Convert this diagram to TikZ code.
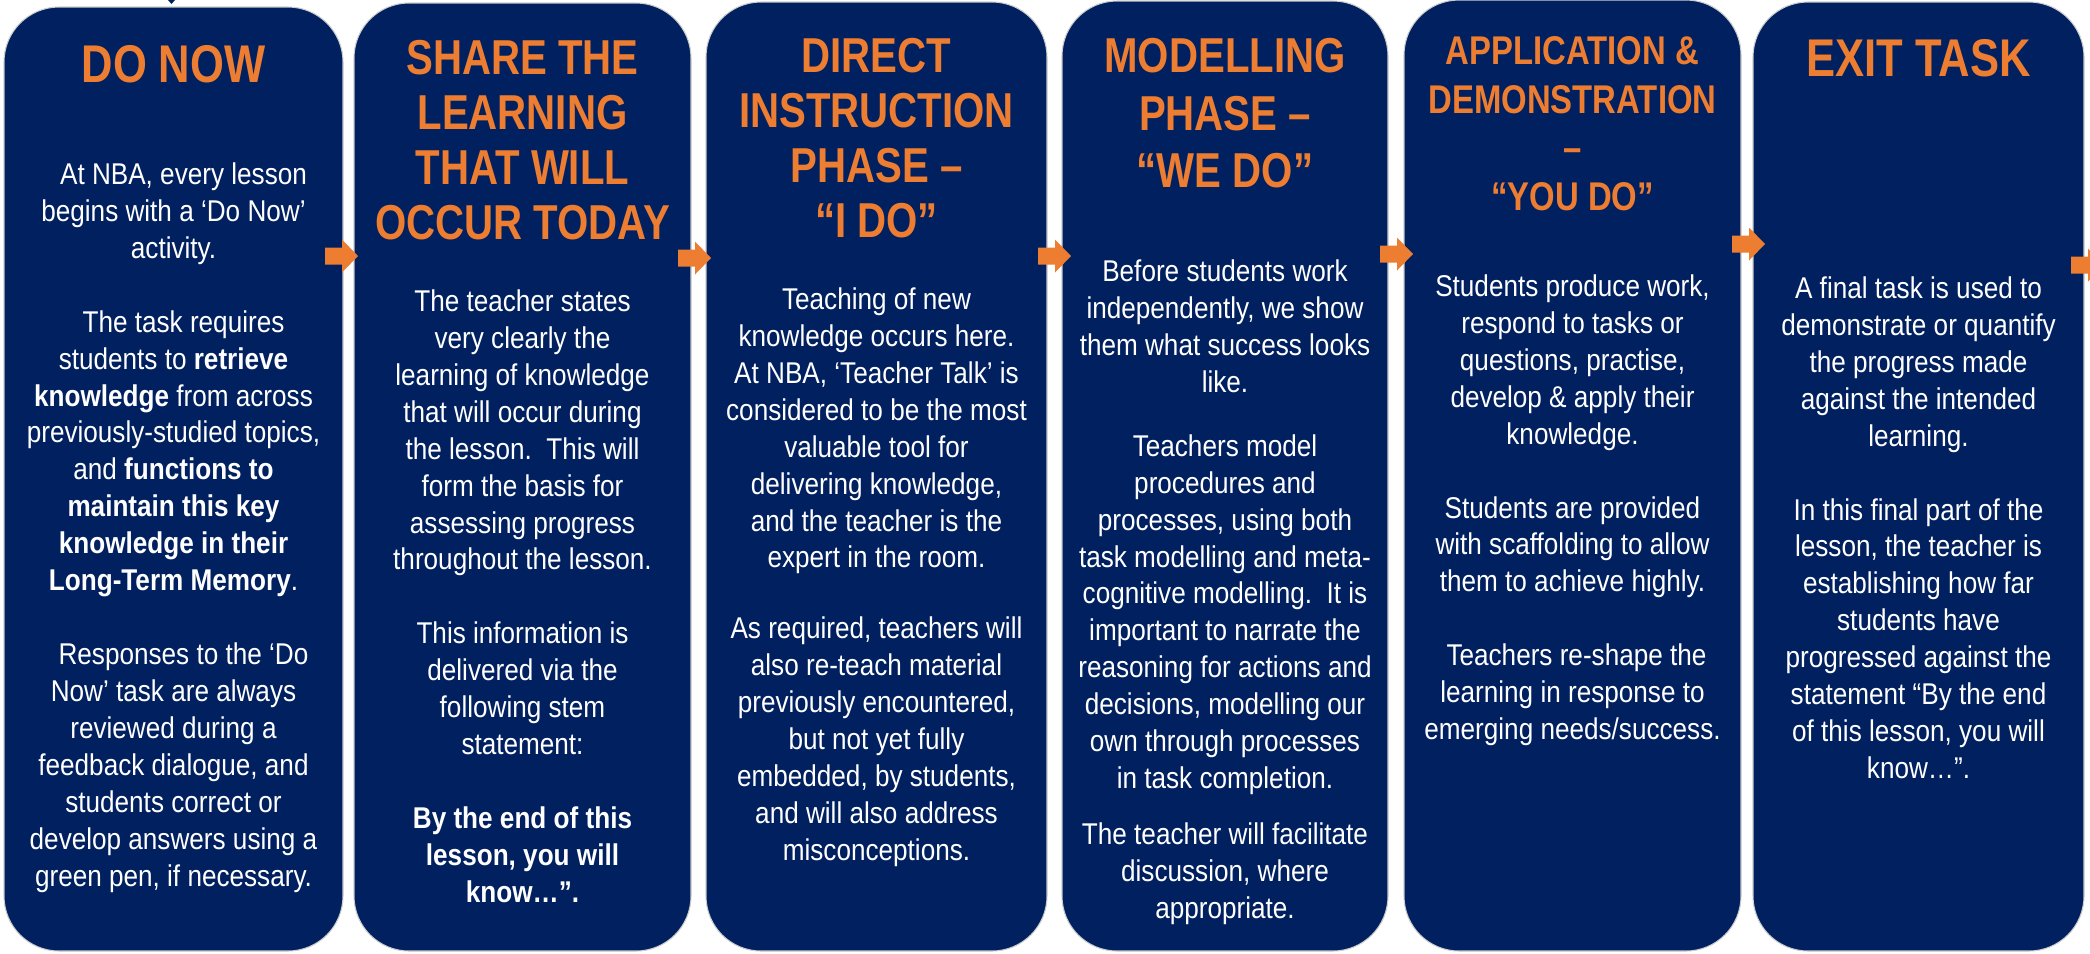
\documentclass[tikz,border=0pt]{standalone}
\usepackage{fontspec}
\setmainfont[FakeStretch=0.87]{Liberation Sans}
\newfontfamily\headfont[FakeStretch=0.82, Ligatures=TeX]{Liberation Sans}
\usepackage{xcolor}
\usepackage{tikz}

\definecolor{nbanavy}{HTML}{002060}
\definecolor{nbaorange}{HTML}{ED7D31}

\begin{document}
\begin{tikzpicture}[x=0.01cm, y=-0.01cm,
	panel/.style={fill=nbanavy, draw=black!20, line width=0.3pt, rounded corners=0.55cm},
	head/.style={anchor=north, inner sep=0pt, align=center, text=nbaorange,
		font=\headfont\bfseries\fontsize{13.94}{15.65}\selectfont},
	bighead/.style={head, font=\headfont\bfseries\fontsize{15.1}{16.5}\selectfont},
	smallhead/.style={head, font=\headfont\bfseries\fontsize{11.4}{13.8}\selectfont},
	body/.style={anchor=north, inner sep=0pt, align=center, text=white,
		font=\fontsize{8.54}{10.5}\selectfont}]

\useasboundingbox (0,0) rectangle (2090,953);
\clip (0,0) rectangle (2090,953);

% the six panels
\draw[panel] (4,7) rectangle (343,951);
\draw[panel] (354,3) rectangle (691,951);
\draw[panel] (706,2) rectangle (1047,951);
\draw[panel] (1062,1) rectangle (1388,951);
\draw[panel] (1404,0) rectangle (1741,951);
\draw[panel] (1753,2) rectangle (2084,951);

% tip of something above the first panel
\fill[nbanavy] (168,0) -- (175,0) -- (171.5,4) -- cycle;

% orange arrows between the panels
\foreach \x/\y in {325/256, 678/258, 1038/256, 1380/254, 1732/244, 2071/265}{
	\fill[nbaorange] (\x,\y) ++(0,-8.5) -- ++(17,0) -- ++(0,-8) -- ++(16,16.5)
		-- ++(-16,16.5) -- ++(0,-8) -- ++(-17,0) -- cycle;
}

% headings
\node[bighead] (h1) at (173.5,45) {DO NOW};
\node[head] (h2) at (522.5,39.5) {SHARE THE\\LEARNING\\THAT WILL\\OCCUR TODAY};
\node[head] (h3) at (876.5,37.5) {DIRECT\\INSTRUCTION\\PHASE --\\``I DO''};
\node[head, font=\headfont\bfseries\fontsize{13.94}{16.4}\selectfont] (h4) at (1225,37.5)
	{MODELLING\\PHASE --\\``WE DO''};
\node[smallhead] (h5) at (1572.5,36) {APPLICATION \&\\DEMONSTRATION\\--\\``YOU DO''};
\node[bighead] (h6) at (1918.5,39) {EXIT TASK};

% texts
\node[body] (t1) at (173.5,162) {\hspace*{0.2cm}At NBA, every lesson\\
	begins with a `Do Now'\\activity.\\[10.5pt]
	\hspace*{0.2cm}The task requires\\students to \textbf{retrieve}\\
	\textbf{knowledge} from across\\previously-studied topics,\\
	and \textbf{functions to}\\\textbf{maintain this key}\\
	\textbf{knowledge in their}\\\textbf{Long-Term Memory}.\\[10.5pt]
	\hspace*{0.2cm}Responses to the `Do\\Now' task are always\\
	reviewed during a\\feedback dialogue, and\\students correct or\\
	develop answers using a\\green pen, if necessary.};

\node[body] (t2) at (522.5,289) {The teacher states\\very clearly the\\
	learning of knowledge\\that will occur during\\the lesson.\ \ This will\\
	form the basis for\\assessing progress\\throughout the lesson.\\[10.5pt]
	This information is\\delivered via the\\following stem\\statement:\\[10.5pt]
	\textbf{By the end of this}\\\textbf{lesson, you will}\\\textbf{know\dots''.}};

\node[body] (t3) at (876.5,287) {Teaching of new\\knowledge occurs here.\\
	At NBA, `Teacher Talk' is\\considered to be the most\\valuable tool for\\
	delivering knowledge,\\and the teacher is the\\expert in the room.\\[9.7pt]
	As required, teachers will\\also re-teach material\\previously encountered,\\
	but not yet fully\\embedded, by students,\\and will also address\\misconceptions.};

\node[body] (t4) at (1225,259) {Before students work\\independently, we show\\
	them what success looks\\like.\\[7.7pt]
	Teachers model\\procedures and\\processes, using both\\
	task modelling and meta-\\cognitive modelling.\ \ It is\\
	important to narrate the\\reasoning for actions and\\decisions, modelling our\\
	own through processes\\in task completion.\\[5.4pt]
	The teacher will facilitate\\discussion, where\\appropriate.};

\node[body] (t5) at (1572.5,274) {Students produce work,\\respond to tasks or\\
	questions, practise,\\develop \& apply their\\knowledge.\\[10.5pt]
	Students are provided\\with scaffolding to allow\\them to achieve highly.\\[10.5pt]
	\hspace*{0.08cm}Teachers re-shape the\\learning in response to\\emerging needs/success.};

\node[body] (t6) at (1918.5,276) {A final task is used to\\demonstrate or quantify\\
	the progress made\\against the intended\\learning.\\[10.5pt]
	In this final part of the\\lesson, the teacher is\\establishing how far\\
	students have\\progressed against the\\statement ``By the end\\
	of this lesson, you will\\know\dots''.};

\end{tikzpicture}
\end{document}
